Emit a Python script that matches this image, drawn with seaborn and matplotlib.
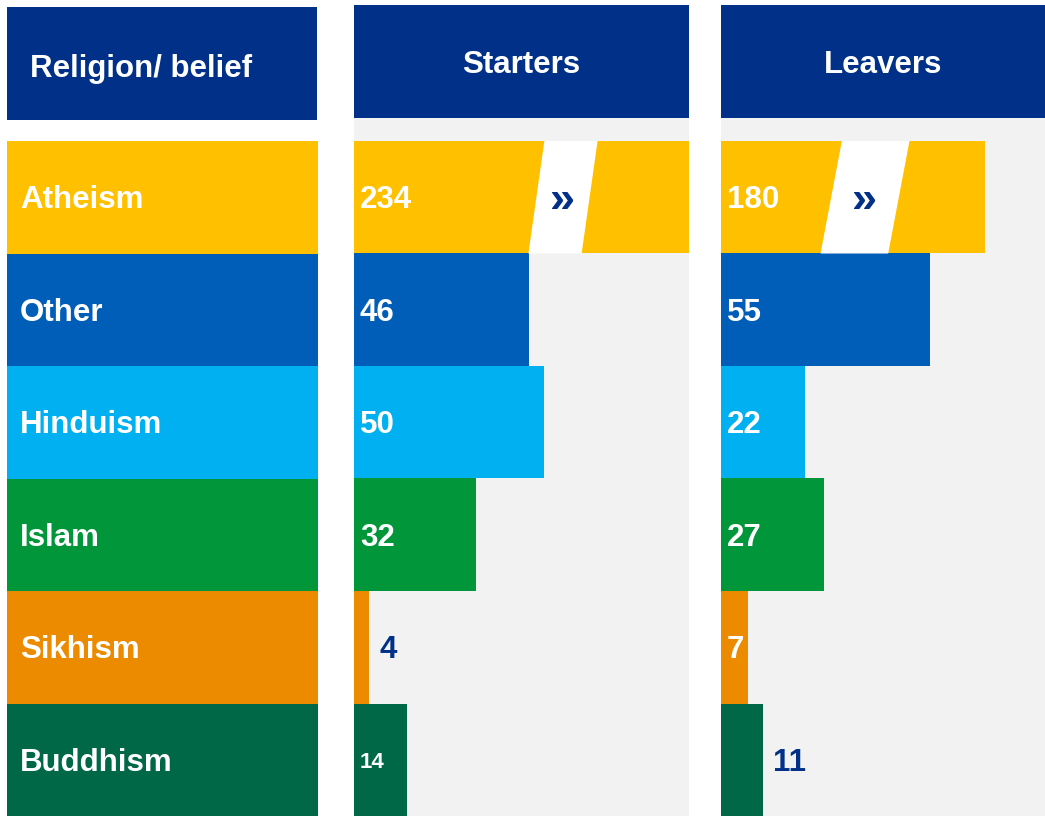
import numpy as np
import pandas as pd
import seaborn as sns
import matplotlib.pyplot as plt
from matplotlib.patches import Polygon

sns.set_theme(style='white')
plt.rcParams['font.family'] = ['Liberation Sans', 'DejaVu Sans']

# %% data
religions = ['Atheism', 'Other', 'Hinduism', 'Islam', 'Sikhism', 'Buddhism']
starters = [234, 46, 50, 32, 4, 14]
leavers = [180, 55, 22, 27, 7, 11]
colours = ['#FFC000', '#005EB8', '#00B0F0', '#009639', '#ED8B00', '#006747']
headers = ['Religion/ belief', 'Starters', 'Leavers']

NAVY = '#003087'
GREY = '#F2F2F2'
W, H = 1045, 816
PX_PER_UNIT = 3.8
FS = 22.5
DY = -3  # small downward nudge for row text, pixels


def box(x0, y0, x1, y1):
    # pixel box (top-left origin) -> figure fraction rect
    return [x0 / W, 1 - y1 / H, (x1 - x0) / W, (y1 - y0) / H]


def clean(ax):
    ax.set(xticks=[], yticks=[], xlabel='', ylabel='')
    for s in ax.spines.values():
        s.set_visible(False)


fig = plt.figure(figsize=(W / 100, H / 100), dpi=100)

# %% header boxes
header_boxes = [(7, 7, 317, 120), (354, 5, 689, 118), (721, 5, 1045, 118)]
for title, hb in zip(headers, header_boxes):
    hax = fig.add_axes(box(*hb))
    hax.set_facecolor(NAVY)
    clean(hax)
    if title == headers[0]:
        hax.text(0.075, 0.455, title, color='white', fontsize=FS, fontweight='bold',
                 ha='left', va='center', transform=hax.transAxes)
    else:
        hax.text(0.5, 0.47, title, color='white', fontsize=FS, fontweight='bold',
                 ha='center', va='center', transform=hax.transAxes)

# %% category label column
lab = fig.add_axes(box(7, 141, 318, 816))
lab_df = pd.DataFrame({'religion': religions, 'full': [1] * len(religions)})
sns.barplot(data=lab_df, x='full', y='religion', hue='religion', palette=colours,
            orient='h', width=1, saturation=1, linewidth=0, legend=False, ax=lab)
lab.set_xlim(0, 1)
lab.set_ylim(5.5, -0.5)
clean(lab)
for i, r in enumerate(religions):
    lab.annotate(r, (0, i), xytext=(13, DY), textcoords='offset pixels',
                 color='white', fontsize=FS, fontweight='bold',
                 ha='left', va='center')


# %% bar panels
def panel(px_box, values, cap, brk_centre, brk_half, brk_slant, styles):
    ax = fig.add_axes(box(*px_box))
    ax.set_facecolor(GREY)
    width_units = (px_box[2] - px_box[0]) / PX_PER_UNIT
    top_gap = (141 - px_box[1]) / 112.5
    df = pd.DataFrame({'religion': religions,
                       'shown': np.minimum(values, cap),
                       'value': values})
    sns.barplot(data=df, x='shown', y='religion', hue='religion', palette=colours,
                orient='h', width=1, saturation=1, linewidth=0, legend=False, ax=ax)
    ax.set_xlim(0, width_units)
    ax.set_ylim(5.5, -0.5 - top_gap)
    clean(ax)

    for i, (v, shown) in enumerate(zip(df['value'], df['shown'])):
        where, size = styles[i]
        if where == 'in':
            ax.annotate(str(v), (0, i), xytext=(6, DY), textcoords='offset pixels',
                        color='white', fontsize=size, fontweight='bold',
                        ha='left', va='center')
        else:
            ax.annotate(str(v), (shown, i), xytext=(10, DY), textcoords='offset pixels',
                        color=NAVY, fontsize=size, fontweight='bold',
                        ha='left', va='center')
        if v > cap:
            c, hw, s = brk_centre, brk_half, brk_slant
            ax.add_patch(Polygon([(c - hw + s, i - 0.5), (c + hw + s, i - 0.5),
                                  (c + hw - s, i + 0.5), (c - hw - s, i + 0.5)],
                                 closed=True, facecolor='white', edgecolor='none',
                                 zorder=3))
            ax.annotate('»', (c, i), xytext=(0, DY), textcoords='offset pixels',
                        color=NAVY, fontsize=FS + 10, fontweight='bold',
                        ha='center', va='center', zorder=4)
    return ax


starter_styles = [('in', FS), ('in', FS), ('in', FS), ('in', FS), ('out', FS), ('in', 16)]
leaver_styles = [('in', FS), ('in', FS), ('in', FS), ('in', FS), ('in', FS), ('out', FS)]

panel((354, 118, 689, 816), starters, cap=335 / PX_PER_UNIT,
      brk_centre=55, brk_half=7, brk_slant=2.1, styles=starter_styles)
panel((721, 118, 1045, 816), leavers, cap=69.5,
      brk_centre=37.9, brk_half=8.9, brk_slant=2.8, styles=leaver_styles)

fig.savefig('out.png', dpi=100, facecolor='white')
